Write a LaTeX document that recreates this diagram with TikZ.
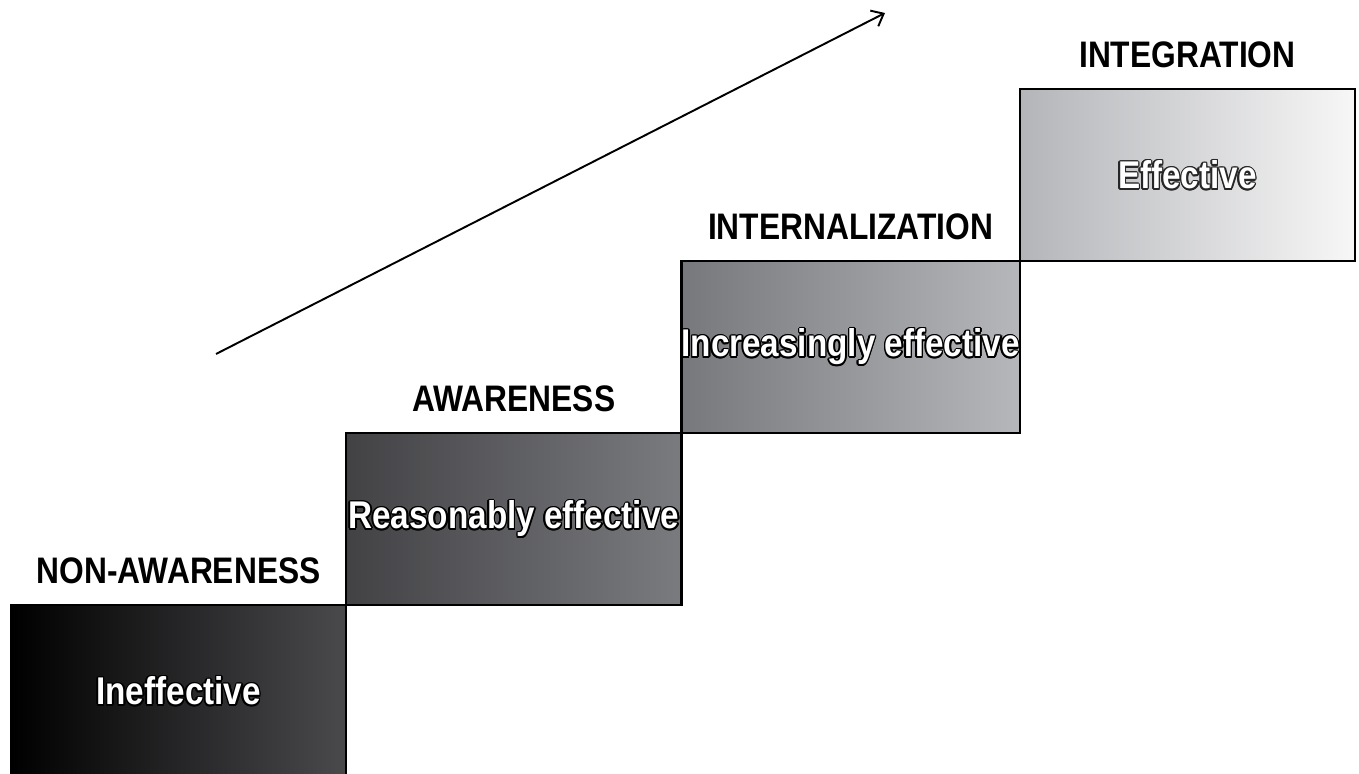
\documentclass[tikz,border=0pt]{standalone}
\usepackage{fontspec}
\newfontfamily\stepfont[FakeStretch=0.86]{Liberation Sans}
\usetikzlibrary{arrows.meta,positioning}
\definecolor{StepA}{HTML}{4A4A4D}
\definecolor{StepB}{HTML}{424245}
\definecolor{StepC}{HTML}{7A7B7F}
\definecolor{StepD}{HTML}{77787C}
\definecolor{StepE}{HTML}{B6B7BB}
\definecolor{StepF}{HTML}{B4B5B9}
\definecolor{StepG}{HTML}{F7F7F7}
% white lettering with a thin ring of #1 round it
\newcommand{\ringtext}[2]{%
  \foreach \ang in {0,30,...,330}{%
    \pgfmathsetlengthmacro{\dx}{0.9pt*cos(\ang)}%
    \pgfmathsetlengthmacro{\dy}{0.9pt*sin(\ang)}%
    \rlap{\hspace*{\dx}\raisebox{\dy}{\textcolor{#1}{#2}}}}%
  \textcolor{white}{#2}}
\tikzset{
  stepbox/.style 2 args={draw=black, line width=1.2pt, inner sep=0pt,
    outer sep=0pt, minimum width=6.705cm, minimum height=3.44cm,
    left color=#1, right color=#2,
    font=\stepfont\bfseries\fontsize{22}{26}\selectfont},
  stagelabel/.style={font=\stepfont\bfseries\fontsize{21}{25}\selectfont,
    inner sep=0pt},
}

\begin{document}
\begin{tikzpicture}
  \useasboundingbox (0,0) rectangle (27.18,15.48);
  \node[stepbox={black}{StepA}, anchor=south west] (ineff) at (0.22,-0.06)
    {\ringtext{black}{Ineffective}};
  \node[stepbox={StepB}{StepC}, above right=0cm of ineff] (reason)
    {\ringtext{black}{Reasonably effective}};
  \node[stepbox={StepD}{StepE}, above right=0cm of reason] (increase)
    {\ringtext{black}{Increasingly effective}};
  \node[stepbox={StepF}{StepG}, above right=0cm of increase] (effect)
    {\ringtext{black!85}{Effective}};

  \node[stagelabel, above=0.42cm of ineff, anchor=base] (nonaware) {NON-AWARENESS};
  \node[stagelabel, above=0.42cm of reason, anchor=base] (aware) {AWARENESS};
  \node[stagelabel, above=0.42cm of increase, anchor=base] (internal) {INTERNALIZATION};
  \node[stagelabel, above=0.42cm of effect, anchor=base] (integr) {INTEGRATION};

  \coordinate (rise0) at (4.32,8.40);
  \coordinate (rise1) at (17.70,15.22);
  \draw[-{Straight Barb[length=6pt,width=10pt]}, line width=1.1pt] (rise0) -- (rise1);
\end{tikzpicture}
\end{document}
